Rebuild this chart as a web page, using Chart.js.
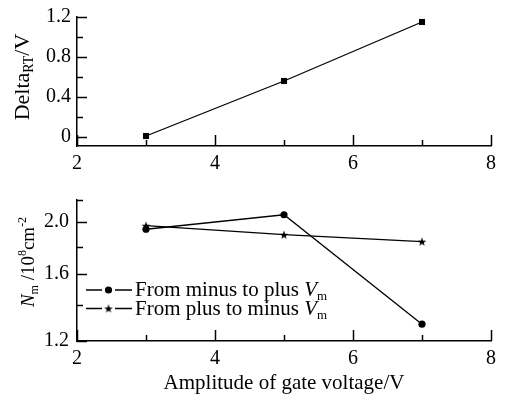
<!DOCTYPE html>
<html>
<head>
<meta charset="utf-8">
<script src="https://cdn.jsdelivr.net/npm/chart.js@4/dist/chart.umd.min.js"></script>
<style>
  body { margin: 0; background: #fff; }
  canvas { position: absolute; left: 0; }
</style>
</head>
<body>
<canvas id="topChart" width="506" height="195" style="top:0"></canvas>
<canvas id="bottomChart" width="506" height="200" style="top:195px"></canvas>
<script>
// values
var gateAmplitude = [3, 5, 7];
var deltaRT = [0.01, 0.56, 1.15];
var nmMinusToPlus = [1.94, 2.065, 1.29];
var nmPlusToMinus = [1.97, 1.895, 1.84];

var xTicks = [2, 3, 4, 5, 6, 7, 8];
var xTickLabels = ['2', '', '4', '', '6', '', '8'];
var topYTicks = [0, 0.2, 0.4, 0.6, 0.8, 1.0, 1.2];
var topYLabels = ['0', '', '0.4', '', '0.8', '', '1.2'];
var bottomYTicks = [1.2, 1.4, 1.6, 1.8, 2.0, 2.2];
var bottomYLabels = ['1.2', '', '1.6', '', '2.0', ''];

var FONT = '"Liberation Serif", "Times New Roman", serif';
Chart.defaults.font.family = FONT;
Chart.defaults.font.size = 20;
Chart.defaults.color = '#000';

function points(xs, ys) {
  return xs.map(function (x, i) { return { x: x, y: ys[i] }; });
}

// small filled star for the second series
var star = document.createElement('canvas');
star.width = 10; star.height = 10;
(function () {
  var c = star.getContext('2d');
  c.beginPath();
  for (var i = 0; i < 10; i++) {
    var r = i % 2 ? 1.8 : 4.6;
    var a = -Math.PI / 2 + i * Math.PI / 5;
    c.lineTo(5 + r * Math.cos(a), 5.4 + r * Math.sin(a));
  }
  c.closePath();
  c.fillStyle = '#000';
  c.fill();
})();

function drawRich(ctx, parts, x, y, align) {
  var total = 0;
  parts.forEach(function (p) {
    ctx.font = (p.italic ? 'italic ' : '') + p.size + 'px ' + FONT;
    p.w = ctx.measureText(p.text).width;
    total += p.w;
  });
  var cx = align === 'left' ? x : x - total / 2;
  ctx.textAlign = 'left';
  ctx.textBaseline = 'alphabetic';
  ctx.fillStyle = '#000';
  parts.forEach(function (p) {
    ctx.font = (p.italic ? 'italic ' : '') + p.size + 'px ' + FONT;
    ctx.fillText(p.text, cx, y + (p.dy || 0));
    cx += p.w;
  });
}

// tick marks pointing into the plot
var inwardTicks = {
  id: 'inwardTicks',
  afterDraw: function (chart) {
    var ctx = chart.ctx, area = chart.chartArea;
    var xs = chart.scales.x, ys = chart.scales.y;
    ctx.save();
    ctx.strokeStyle = '#000';
    ctx.lineWidth = 1.5;
    xs.ticks.forEach(function (t) {
      var px = Math.round(xs.getPixelForValue(t.value)) + 0.5;
      var len = t.label ? 11 : 6;
      ctx.beginPath();
      ctx.moveTo(px, area.bottom);
      ctx.lineTo(px, area.bottom - len);
      ctx.stroke();
    });
    ys.ticks.forEach(function (t) {
      var py = Math.round(ys.getPixelForValue(t.value)) + 0.5;
      var len = t.label ? 10 : 6;
      ctx.beginPath();
      ctx.moveTo(area.left, py);
      ctx.lineTo(area.left + len, py);
      ctx.stroke();
    });
    ctx.restore();
  }
};

var topTitles = {
  id: 'topTitles',
  afterDraw: function (chart) {
    var ctx = chart.ctx;
    ctx.save();
    ctx.translate(28.5, 77);
    ctx.rotate(-Math.PI / 2);
    drawRich(ctx, [
      { text: 'Delta', size: 22 },
      { text: 'RT', size: 14, dy: 4 },
      { text: '/V', size: 22 }
    ], 0, 0);
    ctx.restore();
  }
};

var bottomTitles = {
  id: 'bottomTitles',
  afterDraw: function (chart) {
    var ctx = chart.ctx;
    ctx.save();
    ctx.translate(34, 67);
    ctx.rotate(-Math.PI / 2);
    drawRich(ctx, [
      { text: 'N', size: 19, italic: true },
      { text: 'm', size: 12, dy: 4 },
      { text: ' /10', size: 19 },
      { text: '8', size: 12, dy: -8 },
      { text: 'cm', size: 19 },
      { text: '-2', size: 12, dy: -8 }
    ], 0, 0);
    ctx.restore();

    drawRich(ctx, [{ text: 'Amplitude of gate voltage/V', size: 21 }], 284, 194);

    // legend
    var rows = [95, 113.5];
    chart.data.datasets.forEach(function (ds, i) {
      var y = rows[i];
      ctx.save();
      ctx.strokeStyle = '#000';
      ctx.lineWidth = 1.3;
      ctx.beginPath();
      ctx.moveTo(86, y); ctx.lineTo(102, y);
      ctx.moveTo(115, y); ctx.lineTo(132, y);
      ctx.stroke();
      ctx.fillStyle = '#000';
      Chart.helpers.drawPoint(ctx, { pointStyle: ds.pointStyle, radius: ds.pointRadius, rotation: 0 }, 108.5, y);
      ctx.restore();
      drawRich(ctx, [
        { text: ds.label + ' ', size: 21 },
        { text: 'V', size: 21, italic: true },
        { text: 'm', size: 13, dy: 4 }
      ], 135, y + 6, 'left');
    });
  }
};

function fixedX(height) {
  return function (scale) {
    scale.height = height;
    scale.paddingLeft = 0; scale.paddingRight = 0;
  };
}
function fixedY(width) {
  return function (scale) {
    scale.width = width;
    scale.paddingTop = 0; scale.paddingBottom = 0;
  };
}

var xAxis = function (height) {
  return {
    type: 'linear',
    min: 2,
    max: 8,
    afterBuildTicks: function (scale) {
      scale.ticks = xTicks.map(function (v) { return { value: v }; });
    },
    afterFit: fixedX(height),
    grid: { display: false, drawTicks: false },
    border: { display: true, color: '#000', width: 1.5 },
    ticks: {
      autoSkip: false,
      maxRotation: 0,
      padding: 6,
      callback: function (v, i) { return xTickLabels[i]; }
    }
  };
};

var lineStyle = {
  borderColor: '#000',
  borderWidth: 1.3,
  backgroundColor: '#000',
  pointBackgroundColor: '#000',
  pointBorderColor: '#000',
  pointBorderWidth: 0,
  tension: 0,
  fill: false,
  clip: false
};

new Chart(document.getElementById('topChart'), {
  type: 'line',
  data: {
    datasets: [Object.assign({
      label: 'Delta RT',
      data: points(gateAmplitude, deltaRT),
      pointStyle: 'rect',
      pointRadius: 4.3
    }, lineStyle)]
  },
  options: {
    responsive: false,
    animation: false,
    layout: { padding: { left: 0, right: 15, top: 17, bottom: 0 } },
    plugins: { legend: { display: false }, tooltip: { enabled: false } },
    scales: {
      x: xAxis(49),
      y: {
        type: 'linear',
        min: -0.09,
        max: 1.2,
        afterBuildTicks: function (scale) {
          scale.ticks = topYTicks.map(function (v) { return { value: v }; });
        },
        afterFit: fixedY(77),
        grid: { display: false, drawTicks: false },
        border: { display: true, color: '#000', width: 1.5 },
        ticks: {
          autoSkip: false,
          padding: 6,
          callback: function (v, i) { return topYLabels[i]; }
        }
      }
    }
  },
  plugins: [inwardTicks, topTitles]
});

new Chart(document.getElementById('bottomChart'), {
  type: 'line',
  data: {
    datasets: [
      Object.assign({
        label: 'From minus to plus',
        data: points(gateAmplitude, nmMinusToPlus),
        pointStyle: 'circle',
        pointRadius: 3.6
      }, lineStyle),
      Object.assign({
        label: 'From plus to minus',
        data: points(gateAmplitude, nmPlusToMinus),
        pointStyle: star,
        pointRadius: 4
      }, lineStyle)
    ]
  },
  options: {
    responsive: false,
    animation: false,
    layout: { padding: { left: 0, right: 15, top: 5, bottom: 0 } },
    plugins: { legend: { display: false }, tooltip: { enabled: false } },
    scales: {
      x: xAxis(54),
      y: {
        type: 'logarithmic',
        min: 1.2,
        max: 2.2,
        afterBuildTicks: function (scale) {
          scale.ticks = bottomYTicks.map(function (v) { return { value: v }; });
        },
        afterFit: fixedY(77),
        grid: { display: false, drawTicks: false },
        border: { display: true, color: '#000', width: 1.5 },
        ticks: {
          autoSkip: false,
          padding: 8,
          callback: function (v, i) { return bottomYLabels[i]; }
        }
      }
    }
  },
  plugins: [inwardTicks, bottomTitles]
});
</script>
</body>
</html>
